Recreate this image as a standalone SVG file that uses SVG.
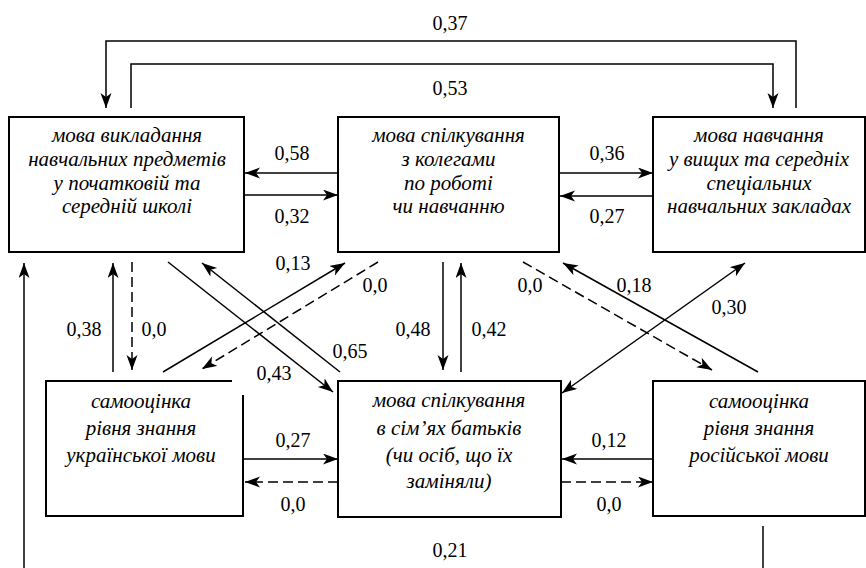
<svg xmlns="http://www.w3.org/2000/svg" width="866" height="568" viewBox="0 0 866 568">
<defs>
<marker id="ah" markerUnits="userSpaceOnUse" markerWidth="16" markerHeight="12" refX="15" refY="5.5" orient="auto-start-reverse">
<path d="M0,0 L15,5.5 L0,11 L4,5.5 Z" fill="#000"/>
</marker>
</defs>
<rect width="866" height="568" fill="#fff"/>
<g id="n1" font-family="'Liberation Serif', 'Times New Roman', serif" font-style="italic" font-size="21" text-anchor="middle">
<rect x="9" y="117" width="235" height="135" fill="#fff" stroke="#000" stroke-width="2"/>
<text x="127" y="142">мова викладання</text>
<text x="127" y="166">навчальних предметів</text>
<text x="127" y="190">у початковій та</text>
<text x="127" y="213">середній школі</text>
</g>
<g id="n2" font-family="'Liberation Serif', 'Times New Roman', serif" font-style="italic" font-size="21" text-anchor="middle">
<rect x="338" y="117" width="221" height="135" fill="#fff" stroke="#000" stroke-width="2"/>
<text x="448.5" y="142">мова спілкування</text>
<text x="448.5" y="166">з колегами</text>
<text x="448.5" y="190">по роботі</text>
<text x="448.5" y="213">чи навчанню</text>
</g>
<g id="n3" font-family="'Liberation Serif', 'Times New Roman', serif" font-style="italic" font-size="21" text-anchor="middle">
<rect x="653" y="117" width="212" height="135" fill="#fff" stroke="#000" stroke-width="2"/>
<text x="759" y="142">мова навчання</text>
<text x="759" y="166">у вищих та середніх</text>
<text x="759" y="190">спеціальних</text>
<text x="759" y="213">навчальних закладах</text>
</g>
<g id="n4" font-family="'Liberation Serif', 'Times New Roman', serif" font-style="italic" font-size="21" text-anchor="middle">
<path d="M232,381 H46 V516 H243 V395" fill="#fff" stroke="#000" stroke-width="2"/>
<text x="141" y="408">самооцінка</text>
<text x="141" y="435">рівня знання</text>
<text x="141" y="462">української мови</text>
</g>
<g id="n5" font-family="'Liberation Serif', 'Times New Roman', serif" font-style="italic" font-size="21" text-anchor="middle">
<rect x="338" y="381" width="223" height="136" fill="#fff" stroke="#000" stroke-width="2"/>
<text x="449" y="407">мова спілкування</text>
<text x="449" y="435">в сім’ях батьків</text>
<text x="449" y="462">(чи осіб, що їх</text>
<text x="449" y="488">заміняли)</text>
</g>
<g id="n6" font-family="'Liberation Serif', 'Times New Roman', serif" font-style="italic" font-size="21" text-anchor="middle">
<rect x="653" y="381" width="212" height="135" fill="#fff" stroke="#000" stroke-width="2"/>
<text x="759" y="408">самооцінка</text>
<text x="759" y="435">рівня знання</text>
<text x="759" y="462">російської мови</text>
</g>
<g id="connectors" fill="none" stroke="#000" stroke-width="1.5">
<path marker-end="url(#ah)" d="M796,108 V41 H106 V108"/>
<path marker-end="url(#ah)" d="M131,108 V64 H773 V108"/>
<path marker-end="url(#ah)" d="M338,173 H245"/>
<path marker-end="url(#ah)" d="M245,195 H338"/>
<path marker-end="url(#ah)" d="M559,173 H653"/>
<path marker-end="url(#ah)" d="M653,196 H560"/>
<path marker-end="url(#ah)" d="M113,372 V263"/>
<path marker-end="url(#ah)" stroke-dasharray="10,5" d="M132,262 V370"/>
<path marker-end="url(#ah)" d="M168,262 L333,392"/>
<path marker-end="url(#ah)" d="M340,372 L202,263"/>
<path marker-end="url(#ah)" d="M163,372 L345,263"/>
<path marker-end="url(#ah)" stroke-dasharray="10,5" d="M378,262 L202,369"/>
<path marker-end="url(#ah)" d="M443,262 V370"/>
<path marker-end="url(#ah)" d="M461,372 V263"/>
<path marker-end="url(#ah)" stroke-dasharray="10,5" d="M523,262 L712,370"/>
<path marker-end="url(#ah)" d="M758,372 L563,263"/>
<path marker-start="url(#ah)" marker-end="url(#ah)" d="M562,393 L745,263"/>
<path marker-end="url(#ah)" d="M243,459 H338"/>
<path marker-end="url(#ah)" stroke-dasharray="10,5" d="M338,482 H245"/>
<path marker-end="url(#ah)" d="M653,459 H562"/>
<path marker-end="url(#ah)" stroke-dasharray="10,5" d="M561,482 H653"/>
<path marker-end="url(#ah)" d="M24,568 V263"/>
<path d="M763,526 V568"/>
</g>
<g id="labels" font-family="'Liberation Serif', 'Times New Roman', serif" font-size="20" text-anchor="middle">
<text x="450" y="30">0,37</text>
<text x="450" y="95">0,53</text>
<text x="292" y="160">0,58</text>
<text x="292" y="223">0,32</text>
<text x="607" y="160">0,36</text>
<text x="607" y="223">0,27</text>
<text x="84" y="336">0,38</text>
<text x="154" y="336">0,0</text>
<text x="293" y="270">0,13</text>
<text x="375" y="292">0,0</text>
<text x="350" y="358">0,65</text>
<text x="274" y="380">0,43</text>
<text x="413" y="336">0,48</text>
<text x="489" y="336">0,42</text>
<text x="530" y="292">0,0</text>
<text x="634" y="292">0,18</text>
<text x="729" y="314">0,30</text>
<text x="293" y="447">0,27</text>
<text x="293" y="511">0,0</text>
<text x="609" y="447">0,12</text>
<text x="609" y="511">0,0</text>
<text x="450" y="557">0,21</text>
</g>
</svg>
